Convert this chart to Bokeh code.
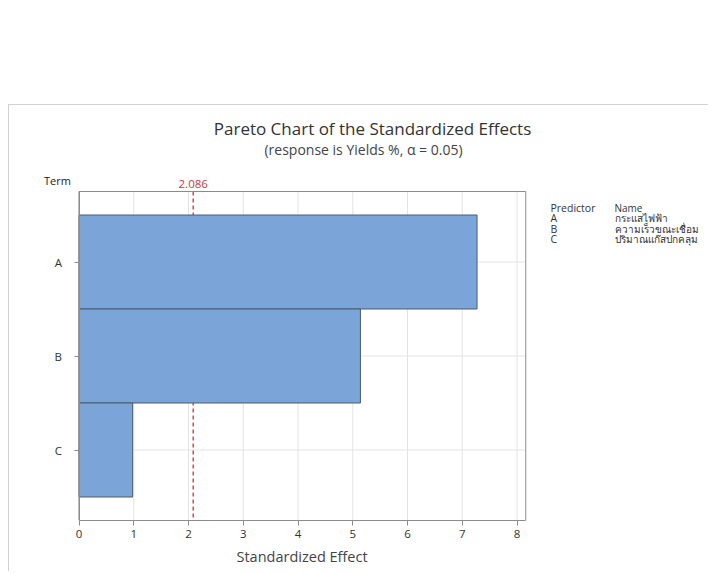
from bokeh.plotting import figure
from bokeh.models import Range1d, FixedTicker, Spacer, Title
from bokeh.layouts import column, row
from bokeh.core.properties import value
from bokeh.embed import file_html
from bokeh.resources import INLINE

# ---- data ----
terms = ["A", "B", "C"]
effects = [7.27, 5.14, 0.98]
names = ["กระแสไฟฟ้า", "ความเร็วขณะเชื่อม", "ปริมาณแก๊สปกคลุม"]
threshold = 2.086
x_ticks = [0, 1, 2, 3, 4, 5, 6, 7, 8]
title_text = "Pareto Chart of the Standardized Effects"
subtitle_text = "(response is Yields %, α = 0.05)"
x_label = "Standardized Effect"
y_label = "Term"
legend_head = ["Predictor", "Name"]

FONT = "Open Sans"
positions = [i + 1 for i in range(len(terms))]

# ---- layout geometry (page pixels) ----
CANVAS_X, CANVAS_Y = 9, 105          # canvas origin on the page (after 1px css border)
W, H = 700, 467
MB_LEFT, MB_BOTTOM = 32, 52
FRAME_L = CANVAS_X + MB_LEFT
FRAME_R = CANVAS_X + W
FRAME_T = CANVAS_Y
FRAME_B = CANVAS_Y + H - MB_BOTTOM
ZERO_PX, PX_PER_X = 78.5, 54.75       # page x of value 0, pixels per unit
PX_PER_Y = 94.0
XMAX = 8.16
Y_TOP, Y_BOT = 0.25, len(terms) + 0.75

x_start = -(ZERO_PX - FRAME_L) / PX_PER_X
x_end = x_start + (FRAME_R - FRAME_L) / PX_PER_X
y_start = Y_BOT                                   # bottom of frame
y_end = Y_BOT - (FRAME_B - FRAME_T) / PX_PER_Y    # top of frame


def px2x(px):
    return (px - ZERO_PX) / PX_PER_X


def py2y(py):
    return Y_BOT - (FRAME_B - py) / PX_PER_Y


p = figure(width=W, height=H, output_backend="svg", toolbar_location=None,
           title_location=None,
           x_range=Range1d(x_start, x_end), y_range=Range1d(y_start, y_end),
           min_border_left=MB_LEFT, min_border_right=0, min_border_top=0,
           min_border_bottom=MB_BOTTOM)
p.styles = {"border-top": "1px solid #d2d2d2", "border-left": "1px solid #d2d2d2"}
p.background_fill_color = "white"
p.border_fill_color = "white"
p.outline_line_color = None
p.xgrid.visible = False
p.ygrid.visible = False

GRID = "#e3e3e3"
FRAME_COL = "#8c8c8c"

# grid lines inside the plot box
p.segment(x0=x_ticks, x1=x_ticks, y0=[Y_TOP] * len(x_ticks), y1=[Y_BOT] * len(x_ticks),
          line_color=GRID, line_width=1)
p.segment(x0=[0] * len(positions), x1=[XMAX] * len(positions), y0=positions, y1=positions,
          line_color=GRID, line_width=1)

# reference line
p.segment(x0=[threshold], x1=[threshold], y0=[Y_TOP], y1=[Y_BOT],
          line_color="#e0474c", line_dash="4 3", line_width=1.5)

# bars
p.hbar(y=positions, right=effects, left=0, height=1.0,
       fill_color="#7BA4D8", line_color="#505a66", line_width=1)

# plot box
p.quad(left=[0], right=[XMAX], top=[Y_TOP], bottom=[Y_BOT],
       fill_color=None, line_color=FRAME_COL, line_width=1)

# axes
p.xaxis.ticker = FixedTicker(ticks=x_ticks)
p.xaxis.bounds = (0, XMAX)
p.yaxis.ticker = FixedTicker(ticks=positions)
p.yaxis.bounds = (Y_TOP, Y_BOT)
p.yaxis.fixed_location = 0
p.yaxis.major_label_overrides = {pos: t for pos, t in zip(positions, terms)}
for ax in (p.xaxis[0], p.yaxis[0]):
    ax.axis_line_color = FRAME_COL
    ax.major_tick_line_color = FRAME_COL
    ax.major_tick_out = 5
    ax.major_tick_in = 0
    ax.minor_tick_line_color = None
    ax.major_label_text_font = FONT
    ax.major_label_text_font_size = "11.5px"
    ax.major_label_text_color = "#333333"
p.xaxis.major_label_standoff = 4
p.yaxis.major_label_standoff = 12

# x axis title, placed under the plot box
p.add_layout(Title(text=x_label, align="left", offset=236 - FRAME_L,
                   text_font=FONT, text_font_style="normal", text_font_size="14.5px",
                   text_color="#444444", standoff=8), "below")

# texts inside the frame
p.text(x=[px2x(372)], y=[py2y(128)], text=[title_text], text_align="center",
       text_baseline="middle", text_font=value(FONT), text_font_size=value("17px"),
       text_color="#333333")
p.text(x=[px2x(363)], y=[py2y(149)], text=[subtitle_text], text_align="center",
       text_baseline="middle", text_font=value(FONT), text_font_size=value("14px"),
       text_color="#444444")
p.text(x=[px2x(57)], y=[py2y(180)], text=[y_label], text_align="center",
       text_baseline="middle", text_font=value(FONT), text_font_size=value("11px"),
       text_color="#222222")
p.text(x=[threshold], y=[py2y(183)], text=[f"{threshold:.3f}"], text_align="center",
       text_baseline="middle", text_font=value(FONT), text_font_size=value("11.5px"),
       text_color="#c23b3b")

col1 = [legend_head[0]] + terms
col2 = [legend_head[1]] + names
row_px = [207, 217.5, 228, 238.5]
p.text(x=[px2x(550)] * len(col1), y=[py2y(v) for v in row_px], text=col1,
       text_align="left", text_baseline="middle", text_font=value(FONT),
       text_font_size=value("10.5px"), text_color="#333333")
p.text(x=[px2x(614)] * len(col2), y=[py2y(v) for v in row_px], text=col2,
       text_align="left", text_baseline="middle", text_font=value(FONT),
       text_font_size=value("10px"), text_color="#333333")

layout = row(Spacer(width=8, height=10), column(Spacer(width=10, height=104), p))
open("out.html", "w").write(file_html(layout, INLINE))
